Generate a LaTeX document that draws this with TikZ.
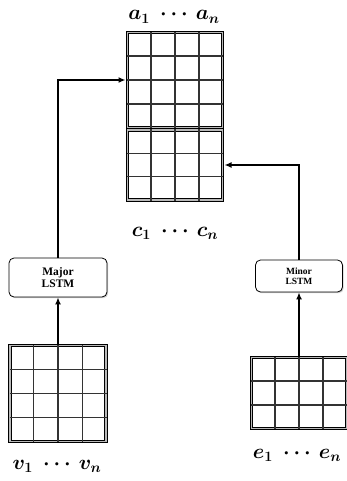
\documentclass[tikz,border=0pt]{standalone}
\usepackage{fontspec}
\newfontfamily\lblfont{Liberation Serif}
\usetikzlibrary{arrows.meta,shadows,calc}
\tikzset{
  frame/.style={draw=black, line width=1pt, double=gray!55, double distance=1.8pt,
    fill=white, inner sep=0pt, drop shadow={shadow xshift=1.6pt, shadow yshift=-1.6pt, fill=gray!35, opacity=0.8}},
  gridline/.style={draw=black!80, line width=1.1pt},
  lstm/.style={draw=black, line width=0.8pt, rounded corners=5pt, fill=white, align=center,
    inner sep=0pt, drop shadow={shadow xshift=1.2pt, shadow yshift=-1.2pt, fill=gray!45, opacity=0.8}},
  conn/.style={draw=black, line width=1.6pt, -{Latex[length=7pt,width=6pt]}},
  mlabel/.style={font=\fontsize{20}{20}\selectfont\boldmath, inner sep=0pt, anchor=base},
}
\newcommand\cellgrid[3]{% node, cols, rows
  \foreach \k in {1,...,\numexpr#2-1\relax}{
    \draw[gridline] ($(#1.north west)!\k/#2!(#1.north east)$) -- ($(#1.south west)!\k/#2!(#1.south east)$);}
  \foreach \k in {1,...,\numexpr#3-1\relax}{
    \draw[gridline] ($(#1.north west)!\k/#3!(#1.south west)$) -- ($(#1.north east)!\k/#3!(#1.south east)$);}
}
\begin{document}
\begin{tikzpicture}[x=1pt,y=-1pt]
\useasboundingbox[fill=white] (0,0) rectangle (346,481);
% grids
\node[frame, minimum width=95pt, minimum height=95pt] (A) at (175,80) {};
\node[frame, minimum width=95pt, minimum height=70pt] (C) at (175,165) {};
\node[frame, minimum width=96pt, minimum height=96pt] (V) at (58,393.5) {};
\node[frame, minimum width=95pt, minimum height=71pt] (E) at (299,393) {};
\cellgrid{A}{4}{4}
\cellgrid{C}{4}{3}
\cellgrid{V}{4}{4}
\cellgrid{E}{4}{3}
% LSTM boxes
\node[lstm, minimum width=98pt, minimum height=39pt, font=\lblfont\bfseries\fontsize{11.5}{12.5}\selectfont] (Maj) at (58,277.5) {Major\\LSTM};
\node[lstm, minimum width=87pt, minimum height=32pt, font=\lblfont\bfseries\fontsize{9.5}{10.5}\selectfont] (Min) at (299,276) {Minor\\LSTM};
% labels
\node[mlabel] (la) at (174,20) {$a_1\hspace{6pt}\cdots\hspace{4pt}a_n$};
\node[mlabel] (lc) at (175,236) {$c_1\hspace{6pt}\cdots\hspace{4pt}c_n$};
\node[mlabel] (lv) at (57,469) {$v_1\hspace{6pt}\cdots\hspace{4pt}v_n$};
\node[mlabel] (le) at (297,458) {$e_1\hspace{6pt}\cdots\hspace{4pt}e_n$};
% connectors
\draw[conn] (V.north) -- (Maj.south);
\draw[conn, shorten >=1.5pt] (Maj.north) |- (A.west);
\draw[conn] (E.north) -- (Min.south);
\draw[conn, shorten >=1.5pt] (Min.north) |- (C.east);
\end{tikzpicture}
\end{document}
